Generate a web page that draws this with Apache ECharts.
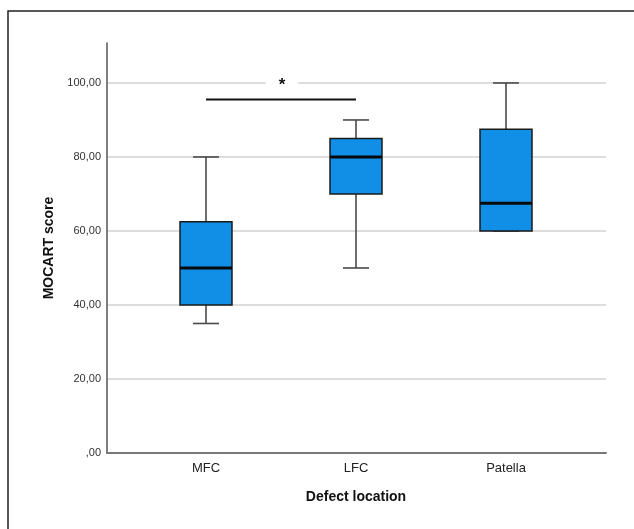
<!DOCTYPE html>
<html>
<head>
<meta charset="utf-8">
<script src="https://cdn.jsdelivr.net/npm/echarts@6/dist/echarts.min.js"></script>
<style>html,body{margin:0;padding:0;background:#fff;}#c{width:634px;height:529px;}</style>
</head>
<body>
<div id="c"></div>
<script>
// ---- data ----
var categories = ['MFC', 'LFC', 'Patella'];
var whiskerMin = [35, 50, 60];
var q1 = [40, 70, 60];
var median = [50, 80, 67.5];
var q3 = [62.5, 85, 87.5];
var whiskerMax = [80, 90, 100];
var yTicks = [0, 20, 40, 60, 80, 100];
var sigFrom = [0];
var sigTo = [1];
var sigBarValue = [95.5];
var sigStarValue = [100];
var sigLabel = ['*'];

var FONT = 'Liberation Sans, Arial, sans-serif';
var boxData = categories.map(function (c, i) {
  return [i, whiskerMin[i], q1[i], median[i], q3[i], whiskerMax[i]];
});
var sigData = sigFrom.map(function (f, i) {
  return [f, sigTo[i], sigBarValue[i], sigStarValue[i], sigLabel[i]];
});

var chart = echarts.init(document.getElementById('c'), null, {renderer: 'canvas'});
var Y_MAX = 110.8;

function renderBox(params, api) {
  var x = api.value(0);
  var pMin = api.coord([x, api.value(1)]);
  var pQ1 = api.coord([x, api.value(2)]);
  var pMed = api.coord([x, api.value(3)]);
  var pQ3 = api.coord([x, api.value(4)]);
  var pMax = api.coord([x, api.value(5)]);
  var cx = pMed[0];
  var bw = 52, cw = 26;
  var wStyle = {stroke: '#4a4a4a', lineWidth: 1.6};
  return {
    type: 'group',
    children: [
      {type: 'line', shape: {x1: cx, y1: pMax[1], x2: cx, y2: pQ3[1]}, style: wStyle},
      {type: 'line', shape: {x1: cx, y1: pQ1[1], x2: cx, y2: pMin[1]}, style: wStyle},
      {type: 'line', shape: {x1: cx - cw / 2, y1: pMax[1], x2: cx + cw / 2, y2: pMax[1]}, style: wStyle},
      {type: 'line', shape: {x1: cx - cw / 2, y1: pMin[1], x2: cx + cw / 2, y2: pMin[1]}, style: wStyle},
      {type: 'rect', shape: {x: cx - bw / 2, y: pQ3[1], width: bw, height: pQ1[1] - pQ3[1]},
        style: {fill: '#118FE6', stroke: '#1b1b1b', lineWidth: 1.5}},
      {type: 'line', shape: {x1: cx - bw / 2, y1: pMed[1], x2: cx + bw / 2, y2: pMed[1]},
        style: {stroke: '#0a0a0a', lineWidth: 3}}
    ]
  };
}

function renderSig(params, api) {
  var a = api.coord([api.value(0), api.value(2)]);
  var b = api.coord([api.value(1), api.value(2)]);
  var s = api.coord([api.value(0), api.value(3)]);
  var sx = (a[0] + b[0]) / 2 + 1;
  return {
    type: 'group',
    children: [
      {type: 'line', shape: {x1: a[0], y1: a[1], x2: b[0], y2: b[1]},
        style: {stroke: '#111', lineWidth: 2}},
      {type: 'text', x: sx, y: s[1] + 2,
        style: {text: api.value(4), fill: '#111', font: 'bold 17px ' + FONT,
          align: 'center', verticalAlign: 'middle',
          backgroundColor: '#fff', padding: [3, 13, 0, 13]}}
    ]
  };
}

var option = {
  backgroundColor: '#fff',
  animation: false,
  graphic: [{
    type: 'rect', z: -1, silent: true,
    shape: {x: 8, y: 11, width: 700, height: 600},
    style: {fill: 'none', stroke: '#222', lineWidth: 1.5}
  }],
  grid: [
    {left: 107, right: 28, top: 43, bottom: 76},
    {left: 131, right: 53, top: 43, bottom: 76}
  ],
  xAxis: [
    {gridIndex: 0, type: 'value', min: 0, max: 1,
      axisLine: {show: true, onZero: false, lineStyle: {color: '#777', width: 2}},
      axisTick: {show: false}, axisLabel: {show: false}, splitLine: {show: false}},
    {gridIndex: 1, type: 'category', data: categories, boundaryGap: true,
      axisLine: {show: false}, axisTick: {show: false},
      axisLabel: {color: '#222', fontSize: 13, fontFamily: FONT, margin: 9},
      name: 'Defect location', nameLocation: 'middle', nameGap: 37,
      nameTextStyle: {color: '#111', fontSize: 14, fontWeight: 'bold', fontFamily: FONT}}
  ],
  yAxis: [
    {gridIndex: 0, type: 'value', min: 0, max: Y_MAX, interval: 20,
      axisLine: {show: true, lineStyle: {color: '#555', width: 1.5}},
      axisTick: {show: false},
      axisLabel: {color: '#333', fontSize: 11, fontFamily: FONT, margin: 6, showMaxLabel: false,
        formatter: function (v) {
          if (yTicks.indexOf(v) < 0) return '';
          return v === 0 ? ',00' : v.toFixed(2).replace('.', ',');
        }},
      splitLine: {show: true, showMaxLine: false, showMinLine: false, lineStyle: {color: '#d2d2d2', width: 1.5}},
      name: 'MOCART score', nameLocation: 'middle', nameGap: 51,
      nameTextStyle: {color: '#111', fontSize: 14, fontWeight: 'bold', fontFamily: FONT}},
    {gridIndex: 1, type: 'value', min: 0, max: Y_MAX, show: false, splitLine: {show: false}}
  ],
  series: [
    {type: 'custom', xAxisIndex: 1, yAxisIndex: 1, data: boxData, renderItem: renderBox, z: 3},
    {type: 'custom', xAxisIndex: 1, yAxisIndex: 1, data: sigData, renderItem: renderSig, z: 4}
  ]
};
chart.setOption(option);
</script>
</body>
</html>
